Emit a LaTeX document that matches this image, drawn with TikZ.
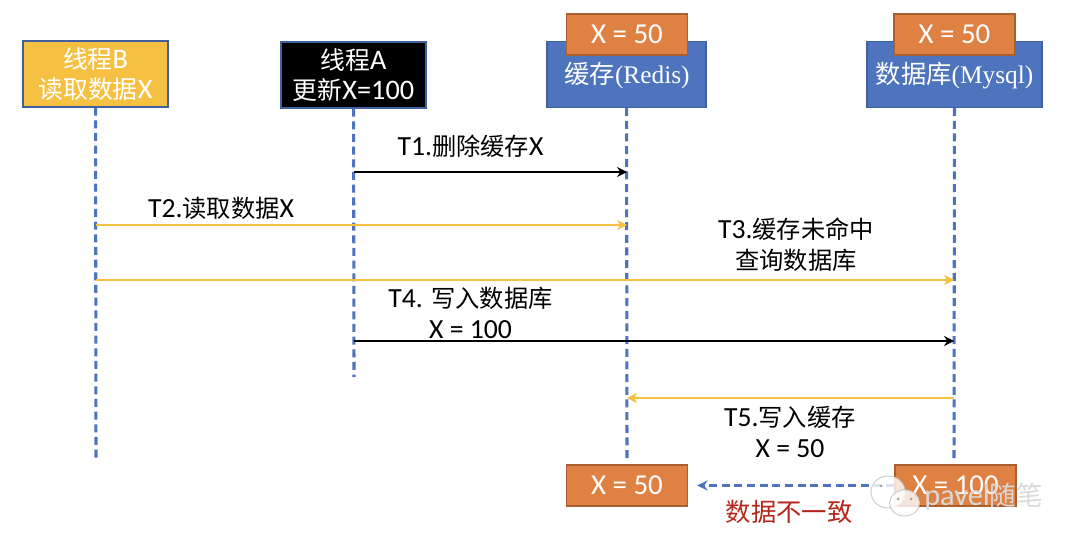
\documentclass[tikz,border=0pt]{standalone}
\usepackage{fontspec}
\setmainfont[Scale=1.14]{Carlito}
\newfontfamily\cjk{Noto Sans CJK SC}
\newfontfamily\rediserif{Liberation Serif}
\newcommand{\cn}[1]{{\cjk #1}}
\usetikzlibrary{arrows.meta}
\definecolor{boxblue}{HTML}{4E74BE}
\definecolor{boxedge}{HTML}{41609E}
\definecolor{boxorange}{HTML}{E08144}
\definecolor{orangeedge}{HTML}{A9602F}
\definecolor{boxyellow}{HTML}{F6C143}
\definecolor{alertred}{HTML}{B5271C}
\tikzset{
box/.style={draw=boxedge, line width=.9pt, minimum height=66\pxu, text=white, font=\fontsize{18.6}{23}\selectfont, align=center, inner sep=0pt},
val/.style={draw=orangeedge, fill=boxorange, line width=.9pt, minimum width=121\pxu, minimum height=41\pxu, text=white, font=\fontsize{19}{22}\selectfont, inner sep=0pt},
life/.style={draw=boxblue, line width=2.3pt, dash pattern=on 6pt off 3.5pt},
msg/.style={line width=2.1pt, -{Stealth[length=7.5pt,width=7.5pt]}},
lab/.style={font=\fontsize{18.2}{23}\selectfont, align=center, inner sep=0pt},
bubble/.style={draw=gray!40, fill=white, fill opacity=.8, line width=.7pt}
}
\newdimen\pxu
\pxu=0.75pt
\begin{document}
\begin{tikzpicture}[x=0.75pt,y=-0.75pt]
\useasboundingbox (0,0) rectangle (1080,548);
\fill[white] (0,0) rectangle (1080,548);
% lifelines first, the boxes sit on top
\coordinate (endb) at (96,461);
\coordinate (enda) at (354,377);
\coordinate (endr) at (627,462);
\coordinate (endm) at (954,462);
\node[box, fill=boxyellow, minimum width=145\pxu] (threadb) at (95.5,74) {\cn{线程}B\\\cn{读取数据}X};
\node[box, fill=black, minimum width=145\pxu] (threada) at (353.5,75) {\cn{线程}A\\\cn{更新}X=100};
\node[box, fill=boxblue, minimum width=159\pxu] (redis) at (626.5,74.5) {};
\node[box, fill=boxblue, minimum width=175\pxu] (mysql) at (954.5,74.5) {};
\node[val] (redistop) at (627,34.5) {X = 50};
\node[val] (mysqltop) at (954.5,34.5) {X = 50};
\node[text=white, font=\fontsize{19}{22}\selectfont, inner sep=0pt] (redistxt) at (627,76) {\cn{缓存}\rediserif(Redis)};
\node[text=white, font=\fontsize{19}{22}\selectfont, inner sep=0pt] (mysqltxt) at (954.5,76) {\cn{数据库}\rediserif(Mysql)};
\draw[life] (threadb) -- (endb);
\draw[life] (threada) -- (enda);
\draw[life] (redis) -- (endr);
\draw[life] (mysql) -- (endm);
% messages
\coordinate (t1a) at (354,172);
\coordinate (t1r) at (627,172);
\coordinate (t2b) at (96,225);
\coordinate (t2r) at (627,225);
\coordinate (t3b) at (96,280);
\coordinate (t3m) at (954,280);
\coordinate (t4a) at (354,341);
\coordinate (t4m) at (954,341);
\coordinate (t5m) at (954,398);
\coordinate (t5r) at (627,398);
\draw[msg, black] (t1a) -- (t1r);
\draw[msg, boxyellow] (t2b) -- (t2r);
\draw[msg, boxyellow] (t3b) -- (t3m);
\draw[msg, black] (t4a) -- (t4m);
\draw[msg, boxyellow] (t5m) -- (t5r);
\node[lab] (t1lab) at (470.5,146) {T1.\cn{删除缓存}X};
\node[lab] (t2lab) at (221,208) {T2.\cn{读取数据}X};
\node[lab] (t3lab) at (796,245) {T3.\cn{缓存未命中}\\\cn{查询数据库}};
\node[lab] (t4lab) at (470.5,313) {T4. \cn{写入数据库}\\X = 100};
\node[lab] (t5lab) at (790,432) {T5.\cn{写入缓存}\\X = 50};
% bottom values
\node[val] (redisend) at (627,485.5) {X = 50};
\node[val] (mysqlend) at (955.5,485.5) {X = 100};
\coordinate (diffend) at (697,485.5);
\draw[boxblue, line width=2.2pt, dash pattern=on 6pt off 3.5pt, -{Stealth[length=8pt,width=7.5pt]}] (mysqlend.west) -- (diffend);
\node[font=\fontsize{19}{22}\selectfont, text=alertred, inner sep=0pt] (diff) at (789,512) {\cn{数据不一致}};
% watermark
\draw[bubble] (888,492) ellipse [x radius=17, y radius=16];
\draw[bubble] (904.5,503) ellipse [x radius=15, y radius=13];
\fill[gray!70] (881,486) circle (1.5) (898,499) circle (1.5) (911,499) circle (1.5);
\node[font=\fontsize{20}{22}\selectfont, inner sep=0pt, anchor=west, text=gray!30] (mark) at (924,497) {pavel\cn{随笔}};
\end{tikzpicture}
\end{document}
